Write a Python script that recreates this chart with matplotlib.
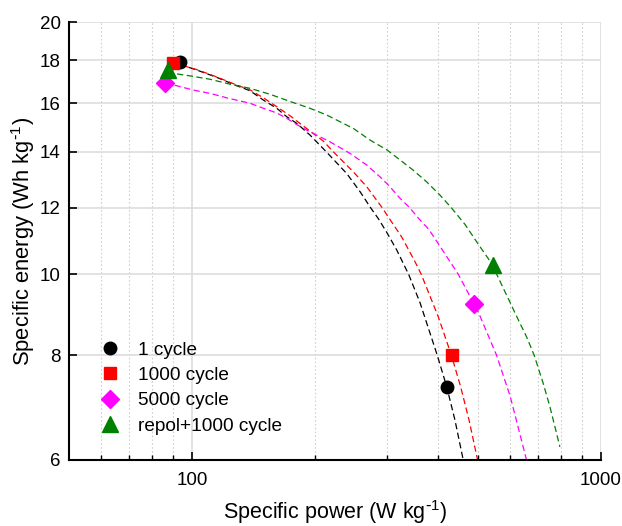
import matplotlib
matplotlib.use("Agg")
import matplotlib.pyplot as plt
from matplotlib.ticker import FixedLocator, FixedFormatter, NullFormatter

plt.rcParams["font.family"] = ["Liberation Sans", "DejaVu Sans"]
plt.rcParams["mathtext.default"] = "regular"

# measured points (power W/kg, energy Wh/kg)
labels = ["1 cycle", "1000 cycle", "5000 cycle", "repol+1000 cycle"]
colors = ["black", "red", "magenta", "green"]
markers = ["o", "s", "D", "^"]
msizes = [9, 8.6, 9, 11]

p_1 = [93.5, 419.6]
e_1 = [17.9, 7.34]
p_1000 = [90.0, 432.9]
e_1000 = [17.86, 8.0]
p_5000 = [85.9, 489.6]
e_5000 = [16.9, 9.21]
p_repol = [87.5, 543.4]
e_repol = [17.53, 10.26]

# fitted Ragone curves
fit_p_1 = [93.5, 97.1, 102.7, 114.9, 128.6, 138.6, 149.4, 161.1, 170.4, 180.3,
           194.3, 213.0, 238.9, 257.5, 273.5, 285.5, 300.0, 316.6, 338.5, 361.0,
           398.0, 419.6, 439.5, 460.6]
fit_e_1 = [17.85, 17.69, 17.53, 17.18, 16.79, 16.56, 16.14, 15.78, 15.42, 15.14,
           14.66, 14.00, 13.19, 12.55, 12.00, 11.65, 11.20, 10.69, 10.00, 9.25,
           8.00, 7.34, 6.70, 6.00]
fit_p_1000 = [90.0, 97.1, 102.7, 114.9, 128.6, 138.6, 150.0, 161.1, 173.6, 187.1,
              209.4, 221.6, 248.0, 267.4, 292.0, 300.0, 325.6, 351.0, 363.5, 400.0,
              431.0, 453.9, 475.8, 499.4]
fit_e_1000 = [17.86, 17.69, 17.55, 17.20, 16.82, 16.60, 16.22, 15.85, 15.46, 15.03,
              14.42, 14.00, 13.25, 12.72, 12.00, 11.76, 11.08, 10.35, 10.00, 8.90,
              8.00, 7.34, 6.70, 6.00]
fit_p_5000 = [85.9, 91.7, 100.7, 110.7, 121.6, 131.1, 138.6, 149.4, 161.1, 170.4,
              180.3, 190.7, 205.6, 217.5, 243.4, 267.4, 288.2, 304.8, 322.6, 341.0,
              357.5, 380.0, 400.0, 447.8, 489.6, 500.0, 555.9, 600.0, 658.0]
fit_e_5000 = [16.90, 16.79, 16.59, 16.44, 16.24, 16.10, 16.00, 15.78, 15.58, 15.35,
              15.09, 14.86, 14.59, 14.39, 13.94, 13.50, 13.07, 12.72, 12.32, 12.00,
              11.67, 11.30, 10.88, 10.00, 9.21, 9.04, 8.00, 7.15, 6.00]
fit_p_repol = [87.5, 90.0, 98.9, 110.7, 123.9, 138.6, 155.1, 173.6, 194.3, 213.5,
               248.0, 272.4, 300.0, 322.6, 347.6, 374.8, 404.0, 431.0, 465.0, 500.0,
               543.4, 556.0, 631.0, 658.0, 687.0, 722.5, 750.3, 771.7, 794.0]
fit_e_repol = [17.53, 17.37, 17.25, 17.09, 16.86, 16.67, 16.40, 16.08, 15.78, 15.49,
               14.93, 14.46, 14.07, 13.69, 13.31, 12.89, 12.43, 12.00, 11.47, 10.88,
               10.26, 10.00, 8.78, 8.42, 8.00, 7.41, 6.95, 6.58, 6.22]

y_ticks = [6, 8, 10, 12, 14, 16, 18, 20]
x_major = [100, 1000]
x_minor = [60, 70, 80, 90, 200, 300, 400, 500, 600, 700, 800, 900]

points = [(p_1, e_1), (p_1000, e_1000), (p_5000, e_5000), (p_repol, e_repol)]
fits = [(fit_p_1, fit_e_1), (fit_p_1000, fit_e_1000),
        (fit_p_5000, fit_e_5000), (fit_p_repol, fit_e_repol)]

fig = plt.figure(figsize=(6.22, 5.26), dpi=100)
ax = fig.add_axes([0.111, 0.1255, 0.855, 0.8325])
ax.set_xscale("log")
ax.set_yscale("log")

for (fp, fe), c in zip(fits, colors):
    ax.plot(fp, fe, ls=(0, (5, 2.8)), lw=0.9, color=c, zorder=2)

for (p, e), c, m, ms, lab in zip(points, colors, markers, msizes, labels):
    ax.plot(p, e, ls="none", marker=m, ms=ms, color=c, label=lab, zorder=3)

ax.set_xlim(50, 1000)
ax.set_ylim(6, 20)

ax.xaxis.set_major_locator(FixedLocator(x_major))
ax.xaxis.set_minor_locator(FixedLocator(x_minor))
ax.xaxis.set_major_formatter(FixedFormatter([str(v) for v in x_major]))
ax.xaxis.set_minor_formatter(NullFormatter())
ax.yaxis.set_major_locator(FixedLocator(y_ticks))
ax.yaxis.set_minor_locator(FixedLocator([]))
ax.yaxis.set_major_formatter(FixedFormatter([str(v) for v in y_ticks]))
ax.yaxis.set_minor_formatter(NullFormatter())

ax.grid(which="major", color="#dddddd", lw=1.2, ls="-", zorder=0)
ax.grid(which="minor", axis="x", color="#cfcfcf", lw=0.8, ls=(0, (1.5, 2)), zorder=0)
ax.set_axisbelow(True)

ax.tick_params(which="major", direction="in", length=6, width=1.2, labelsize=13.5)
ax.tick_params(axis="x", which="major", pad=9)
ax.tick_params(axis="y", which="major", pad=6)
ax.tick_params(which="minor", direction="in", length=3.8, width=1.0)
for s in ["top", "right"]:
    ax.spines[s].set_visible(False)
for s in ["left", "bottom"]:
    ax.spines[s].set_linewidth(1.5)

ax.set_xlabel(r"Specific power (W kg$^{\text{-}1}$)", fontsize=15.5, labelpad=6)
ax.set_ylabel(r"Specific energy (Wh kg$^{\text{-}1}$)", fontsize=15.8, labelpad=2)

ax.legend(loc="upper left", bbox_to_anchor=(0.026, 0.288), frameon=False, fontsize=13.7,
          handletextpad=0.5, labelspacing=0.42, borderaxespad=0)

fig.savefig("out.png", dpi=100)
